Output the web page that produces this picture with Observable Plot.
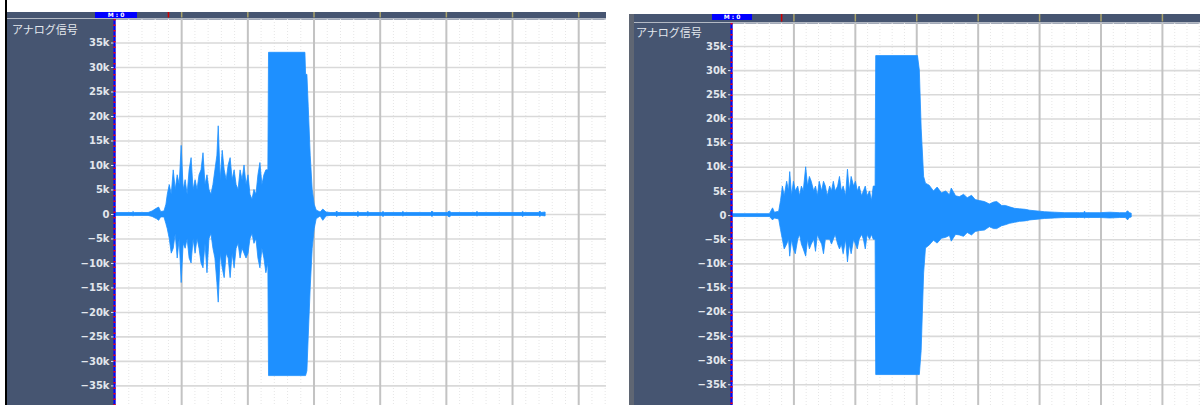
<!DOCTYPE html>
<html><head><meta charset="utf-8">
<script src="https://cdn.jsdelivr.net/npm/d3@7"></script>
<script src="https://cdn.jsdelivr.net/npm/@observablehq/plot@0.6"></script>
<style>
body{margin:0;background:#fff;}
#wrap{position:relative;width:1200px;height:405px;overflow:hidden;background:#fff;}
.abs{position:absolute;}
.lbl{color:#e4e8ee;font:11px/11px "Noto Sans CJK JP";white-space:nowrap;}
.mbox{background:#0000ff;color:#fff;font:bold 6px/6px "DejaVu Sans";text-align:center;white-space:nowrap;}
.sep{background:#b3b9c4;height:1px;}
</style></head>
<body>
<div id="wrap">
  <div class="abs" style="left:5px;top:0;width:2px;height:405px;background:#000"></div>
  <div id="left" class="abs" style="left:7px;top:12px"></div>
  <div class="abs sep" style="left:7px;top:18px;width:599px"></div>
  <div class="abs lbl" style="left:12px;top:24px">アナログ信号</div>
  <div class="abs mbox" style="left:95px;top:12px;width:42px;height:6px">M : 0</div>

  <div class="abs" style="left:629px;top:14px;width:5px;height:391px;background:#5f6673"></div>
  <div id="right" class="abs" style="left:634px;top:14px"></div>
  <div class="abs sep" style="left:634px;top:22px;width:566px"></div>
  <div class="abs lbl" style="left:636px;top:27px">アナログ信号</div>
  <div class="abs mbox" style="left:712px;top:14px;width:40px;height:6px">M : 0</div>
</div>
<script>
// ---- data (amplitude in thousands, time in grid units) ----
const yTicks = [-35,-30,-25,-20,-15,-10,-5,0,5,10,15,20,25,30,35];
const majorX = [1,2,3,4,5,6,7];
const cursorT = 0.80;

const leftT = [0.00,0.26,0.27,0.29,0.50,0.56,0.63,0.66,0.69,0.74,0.77,0.79,0.82,0.85,0.88,0.91,0.94,0.97,
  1.00,1.03,1.06,1.09,1.12,1.15,1.18,1.21,1.24,1.27,1.30,1.33,1.36,1.39,1.42,1.45,1.48,1.51,1.54,1.56,1.59,
  1.62,1.65,1.68,1.71,1.74,1.77,1.80,1.83,1.86,1.89,1.92,1.95,1.98,2.01,2.04,2.07,2.10,2.13,2.16,2.19,2.22,
  2.25,2.28,2.31,2.32,2.87,2.88,2.90,2.92,2.95,2.98,3.01,3.04,3.10,3.14,3.19,
  3.25,3.33,3.35,3.37,3.65,3.67,3.69,3.80,3.82,3.84,4.03,4.05,4.07,4.33,4.35,4.37,4.77,4.79,4.81,
  5.02,5.05,5.08,5.45,5.47,5.49,6.14,6.16,6.18,6.40,6.42,6.44,6.50];
const leftMax = [0.3,0.3,0.5,0.3,0.3,0.6,1.2,1.4,0.5,0.6,2.0,4.0,6,4,9,5,8,6,
  14,5,7,4,9,11.5,5,7,5,8,9,12.5,6,8,5,4,6,9,12,18,7,
  13,9,7,10,11.5,7,9,6,5,9,7,10,6,8,4,3,5,4,8,10.5,6,
  8,9,9,33,33,28.5,28.5,22,12,5,2,0.8,0.4,1.0,0.4,
  0.3,0.3,0.6,0.3,0.3,0.5,0.3,0.3,0.5,0.3,0.3,0.5,0.3,0.3,0.5,0.3,0.3,0.6,0.3,
  0.3,0.6,0.3,0.3,0.5,0.3,0.3,0.5,0.3,0.3,0.6,0.3,0.4];
const leftMin = [-0.3,-0.3,-0.4,-0.3,-0.3,-0.5,-1.0,-1.3,-0.6,-0.6,-2.0,-3.0,-5,-8,-7,-4,-9,-5,
  -14,-6,-7,-5,-9,-10,-5,-8,-5,-7,-10,-11,-6,-12,-5,-4,-7,-9,-14,-18,-8,
  -11,-13,-8,-9,-13,-8,-11,-7,-6,-9,-7,-8,-9,-8,-5,-4,-6,-5,-9,-11,-7,
  -9,-12,-10,-33,-33,-33,-32,-25,-15,-7,-3,-1,-0.4,-1.3,-0.4,
  -0.3,-0.3,-0.5,-0.3,-0.3,-0.5,-0.3,-0.3,-0.4,-0.3,-0.3,-0.5,-0.3,-0.3,-0.4,-0.3,-0.3,-0.5,-0.3,
  -0.3,-0.6,-0.3,-0.3,-0.4,-0.3,-0.3,-0.5,-0.3,-0.3,-0.5,-0.3,-0.4];

const rightT = [0.00,0.61,0.66,0.69,0.76,0.79,0.82,0.85,0.89,0.92,0.94,0.97,1.00,1.03,1.07,1.10,1.13,1.16,
  1.20,1.23,1.26,1.29,1.33,1.36,1.39,1.42,1.46,1.49,1.52,1.55,1.59,1.62,1.65,1.68,1.72,1.75,1.78,1.81,1.85,
  1.88,1.91,1.94,1.98,2.01,2.04,2.07,2.11,2.14,2.17,2.20,2.24,2.27,2.30,2.33,2.34,3.02,3.05,3.08,3.12,3.15,
  3.21,3.28,3.34,3.41,3.48,3.54,3.57,3.64,3.70,3.77,3.83,3.90,3.96,4.03,4.11,4.19,4.26,4.31,4.39,4.45,4.52,
  4.60,4.68,4.77,4.85,5.01,5.09,5.25,5.41,5.66,5.72,5.74,5.76,5.99,6.15,6.31,6.41,6.44,6.47,6.50];
const rightMax = [0.3,0.3,1.5,0.6,0.8,3,6,4,7,5,9,4,7,5,6,4,6,5,
  10,6,8,7,5,6,4,7,5,7,6,4,6,5,7,5,6,8,5,6,4,
  9.5,5,8,6,7,5,6,4,5,6,4,5,3,6,6,33,33,30,18,8,6.6,
  6.2,5.0,5.8,4.6,5.0,4.2,5.6,4.0,3.8,4.3,3.6,4.1,3.2,3.0,2.8,2.3,2.7,2.8,2.0,2.0,1.7,
  1.4,1.3,1.2,1.0,0.8,0.7,0.6,0.5,0.5,0.5,0.8,0.5,0.5,0.6,0.5,0.5,0.9,0.5,0.4];
const rightMin = [-0.3,-0.3,-1.0,-0.6,-0.8,-3,-5,-7,-6,-5,-8.5,-5,-7,-8,-5,-4,-6,-7,
  -8.5,-5,-7,-6,-5,-7.5,-4,-5,-6,-8,-5,-5,-5,-6,-5,-4,-6,-7,-6,-8,-5,
  -9.7,-6,-8,-5,-6,-7,-5,-4,-5,-7,-4,-5,-4,-5,-5,-33,-33,-33,-28,-12,-6.8,
  -6.2,-5.2,-5.8,-4.8,-4.6,-4.2,-5.4,-4.0,-4.1,-4.4,-3.6,-4.1,-3.4,-3.2,-3.1,-2.4,-2.8,-2.8,-2.2,-2.0,-1.7,
  -1.5,-1.3,-1.2,-1.0,-0.8,-0.7,-0.6,-0.5,-0.5,-0.5,-0.6,-0.5,-0.5,-0.6,-0.5,-0.5,-1.0,-0.5,-0.4];

// ---- drawing ----
const fmt = d => d === 0 ? "0" : (d < 0 ? "\u2212" : "") + Math.abs(d) + "k";

function panel(o) {
  const data = o.t.map((t, i) => ({t, hi: o.hi[i], lo: o.lo[i]}));
  const minor = d3.range(1, Math.floor(o.xMax * 5) + 1).map(i => i / 5)
    .filter(v => Math.abs(v - Math.round(v)) > 1e-6);
  const kPerPx = (o.yDomain[1] - o.yDomain[0]) / (o.height - o.marginTop);
  const yHdrTop = o.yDomain[1] + o.marginTop * kPerPx;
  const yHdrBot = o.yDomain[1] + 1.5 * kPerPx;
  return Plot.plot({
    width: o.width, height: o.height,
    marginLeft: o.marginLeft, marginRight: 0, marginTop: o.marginTop, marginBottom: 0,
    x: {domain: [0, o.xMax], axis: null},
    y: {domain: o.yDomain, axis: null},
    style: {background: "#465571", fontFamily: "DejaVu Sans", fontSize: "10px", fontWeight: "bold"},
    marks: [
      Plot.frame({fill: "white", stroke: null}),
      Plot.ruleX(minor, {stroke: "#e6e6e6", strokeDasharray: "1,2"}),
      Plot.ruleY(yTicks, {stroke: "#d9d9d9", strokeWidth: 1.6}),
      Plot.ruleX(majorX, {stroke: "#c3c3c3", strokeWidth: 2}),
      Plot.areaY(data, {x: "t", y1: "lo", y2: "hi", fill: "#1e90ff", stroke: "#1e90ff", strokeWidth: 0.8, curve: "linear"}),
      Plot.ruleX(majorX, {y1: yHdrTop, y2: yHdrBot, stroke: "#a9a26a", strokeWidth: 1.5}),
      Plot.ruleX([cursorT], {y1: yHdrTop, y2: yHdrBot, stroke: "#d00000", strokeWidth: 1.5}),
      Plot.axisY(yTicks, {tickFormat: fmt, tickSize: 3, tickPadding: 2, color: "#e2e6ec", dx: -1}),
      Plot.ruleX([0], {stroke: "#0000ff", strokeWidth: 2, dx: -1}),
      Plot.ruleX([0], {stroke: "#ff0000", strokeWidth: 2, dx: -1, strokeDasharray: "1.5,4"})
    ]
  });
}

document.getElementById("left").append(panel({
  t: leftT, hi: leftMax, lo: leftMin,
  width: 599, height: 393, marginLeft: 108, marginTop: 7,
  yDomain: [-39.0, 39.8], xMax: 7.42
}));
document.getElementById("right").append(panel({
  t: rightT, hi: rightMax, lo: rightMin,
  width: 566, height: 391, marginLeft: 98, marginTop: 9,
  yDomain: [-39.3, 39.75], xMax: 7.62
}));
</script>
</body></html>
